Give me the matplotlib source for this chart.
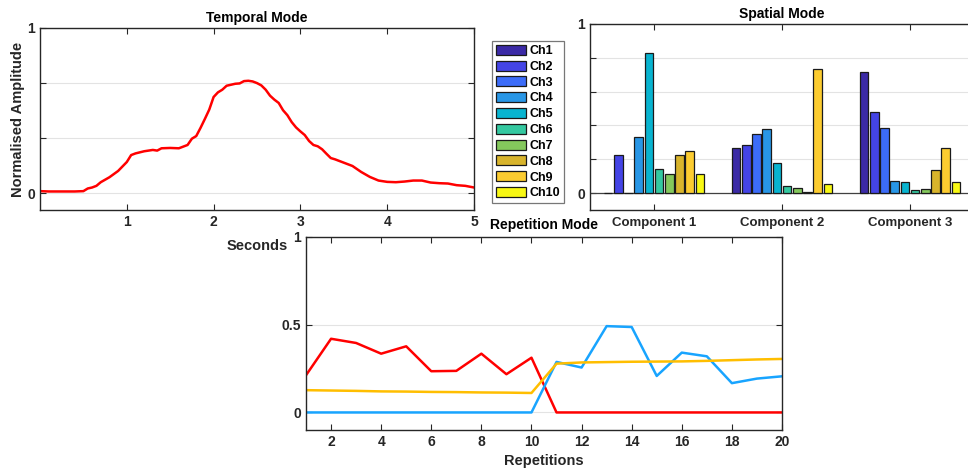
import numpy as np
import matplotlib.pyplot as plt
from matplotlib.patches import Patch

plt.rcParams['font.family'] = ['Liberation Sans', 'DejaVu Sans']
plt.rcParams['font.weight'] = 'bold'
plt.rcParams['font.size'] = 10

# temporal component (normalised amplitude vs time)
t_sec = [0.0, 0.1, 0.2, 0.3, 0.4, 0.5, 0.55, 0.6, 0.65, 0.7, 0.8, 0.9, 1.0, 1.05, 1.1,
         1.2, 1.3, 1.35, 1.4, 1.5, 1.6, 1.7, 1.75, 1.8, 1.85, 1.9, 1.95, 2.0, 2.05, 2.1,
         2.15, 2.2, 2.25, 2.3, 2.35, 2.4, 2.45, 2.5, 2.55, 2.6, 2.65, 2.7, 2.75, 2.8, 2.85,
         2.9, 2.95, 3.0, 3.05, 3.1, 3.15, 3.2, 3.25, 3.3, 3.35, 3.4, 3.5, 3.6, 3.7, 3.8,
         3.9, 4.0, 4.1, 4.2, 4.3, 4.4, 4.5, 4.6, 4.7, 4.8, 4.9, 5.0]
temporal = [0.014, 0.012, 0.012, 0.012, 0.012, 0.014, 0.03, 0.036, 0.046, 0.068, 0.098, 0.136,
            0.19, 0.232, 0.242, 0.255, 0.263, 0.259, 0.273, 0.275, 0.273, 0.293, 0.331, 0.347,
            0.397, 0.451, 0.507, 0.583, 0.611, 0.627, 0.651, 0.657, 0.663, 0.665, 0.679, 0.681,
            0.677, 0.667, 0.653, 0.627, 0.591, 0.567, 0.547, 0.503, 0.473, 0.431, 0.399, 0.375,
            0.353, 0.317, 0.293, 0.285, 0.267, 0.24, 0.214, 0.206, 0.186, 0.166, 0.13, 0.1,
            0.078, 0.07, 0.068, 0.072, 0.078, 0.078, 0.066, 0.062, 0.06, 0.05, 0.046, 0.036]

# spatial components (one weight per channel)
channels = ['Ch1', 'Ch2', 'Ch3', 'Ch4', 'Ch5', 'Ch6', 'Ch7', 'Ch8', 'Ch9', 'Ch10']
components = ['Component 1', 'Component 2', 'Component 3']
comp1 = [0.0, 0.225, 0.0, 0.333, 0.826, 0.14, 0.112, 0.223, 0.247, 0.114]
comp2 = [0.268, 0.284, 0.347, 0.381, 0.176, 0.039, 0.028, 0.006, 0.736, 0.051]
comp3 = [0.716, 0.479, 0.387, 0.071, 0.063, 0.016, 0.022, 0.136, 0.268, 0.063]
ch_colors = ['#3b2aa6', '#4444e6', '#3c6cf8', '#2896e6', '#08b4d0',
             '#34c8a0', '#84c85c', '#d8b42c', '#fccc30', '#f8f814']

# repetition mode, one line per component
reps = np.arange(1, 21)
rep_c1 = [0.212, 0.42, 0.396, 0.335, 0.377, 0.235, 0.237, 0.335, 0.218, 0.312,
          0, 0, 0, 0, 0, 0, 0, 0, 0, 0]
rep_c2 = [0, 0, 0, 0, 0, 0, 0, 0, 0, 0,
          0.288, 0.256, 0.492, 0.487, 0.208, 0.341, 0.32, 0.167, 0.193, 0.206]
rep_c3 = [0.127, 0.125, 0.123, 0.12, 0.119, 0.117, 0.116, 0.114, 0.113, 0.111,
          0.278, 0.285, 0.287, 0.289, 0.29, 0.291, 0.294, 0.298, 0.302, 0.305]

axcol = '#262626'
W, H = 968, 473


def style(ax):
    for s in ax.spines.values():
        s.set_color(axcol)
        s.set_linewidth(1.0)
    ax.tick_params(direction='in', top=True, right=True, colors=axcol,
                   labelcolor=axcol, length=4, width=0.8, labelsize=10)
    ax.grid(True, axis='y', color='#e3e3e3', lw=0.8)
    ax.set_axisbelow(True)


def box(l, t, r, b):
    return [l / W, 1 - b / H, (r - l) / W, (b - t) / H]


fig = plt.figure(figsize=(9.68, 4.73), dpi=100)

# temporal
ax1 = fig.add_axes(box(40, 28, 474, 210))
ax1.plot(t_sec, temporal, color='#ff0000', lw=1.8)
ax1.set_xlim(0, 5)
ax1.set_ylim(-0.1, 1)
ax1.set_xticks([1, 2, 3, 4, 5])
ax1.set_yticks([0, 1 / 3, 2 / 3, 1])
ax1.set_yticklabels(['0', '', '', '1'])
style(ax1)
ax1.set_title('Temporal Mode', fontsize=10, fontweight='bold', pad=4)
ax1.set_xlabel('Seconds', fontsize=10.5, fontweight='bold', color=axcol, labelpad=7)
ax1.set_ylabel('Normalised Amplitude', fontsize=10.5, fontweight='bold', color=axcol, labelpad=2)

# spatial
ax2 = fig.add_axes(box(590, 24, 974, 210))
x = np.arange(1, 4)
step = 0.08
for i in range(10):
    vals = [comp1[i], comp2[i], comp3[i]]
    ax2.bar(x + (i - 4.5) * step, vals, width=0.068, color=ch_colors[i],
            edgecolor='#1a1a1a', lw=0.9, label=channels[i], zorder=3)
ax2.axhline(0, color='#404040', lw=0.9, zorder=2)
ax2.set_xlim(0.5, 3.5)
ax2.set_ylim(-0.1, 1)
ax2.set_xticks(x)
ax2.set_xticklabels(components, fontsize=9.5)
ax2.set_yticks([0, 0.2, 0.4, 0.6, 0.8, 1])
ax2.set_yticklabels(['0', '', '', '', '', '1'])
style(ax2)
ax2.tick_params(axis='x', pad=5, labelsize=9.5)
ax2.set_title('Spatial Mode', fontsize=10, fontweight='bold', pad=4)

handles = [Patch(facecolor=c, edgecolor='#1a1a1a', lw=0.9) for c in ch_colors]
leg = fig.legend(handles, channels, loc='upper left',
                 bbox_to_anchor=(492 / W, 1 - 41 / H), frameon=True, fancybox=False,
                 edgecolor='#555555', fontsize=9, handlelength=2.4, handleheight=0.85,
                 handletextpad=0.3, labelspacing=0.28, borderpad=0.3, borderaxespad=0)
leg.get_frame().set_linewidth(0.9)
for txt in leg.get_texts():
    txt.set_fontweight('bold')

# repetitions
ax3 = fig.add_axes(box(306, 237, 782, 430))
ax3.plot(reps, rep_c1, color='#ff0000', lw=1.8)
ax3.plot(reps, rep_c2, color='#18a4ff', lw=1.8)
ax3.plot(reps, rep_c3, color='#ffbe00', lw=1.8)
ax3.set_xlim(1, 20)
ax3.set_ylim(-0.1, 1)
ax3.set_xticks(np.arange(2, 21, 2))
ax3.set_yticks([0, 0.5, 1])
ax3.set_yticklabels(['0', '0.5', '1'])
style(ax3)
ax3.set_title('Repetition Mode', fontsize=10, fontweight='bold', pad=6)
ax3.set_xlabel('Repetitions', fontsize=10.5, fontweight='bold', color=axcol, labelpad=4)

fig.savefig('out.png', dpi=100)
